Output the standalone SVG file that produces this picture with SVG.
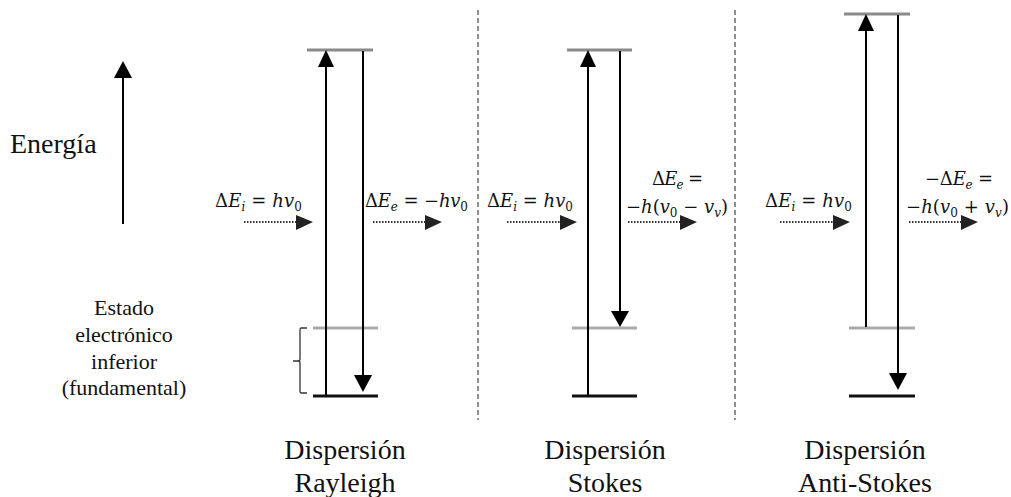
<svg xmlns="http://www.w3.org/2000/svg" width="1011" height="497" viewBox="0 0 1011 497">
<style>
.lbl{font-family:"Liberation Serif","Times New Roman",serif;fill:#111;}
.big{font-size:28px;}
.mid{font-size:22px;}
.math{font-family:"DejaVu Serif","Liberation Serif",serif;font-size:18px;fill:#111;}
.it{font-style:italic;}
.sub{font-size:12px;font-style:italic;}
.sub0{font-size:12px;}
.top{stroke:#8a8a8a;stroke-width:3;}
.midl{stroke:#aaaaaa;stroke-width:3;}
.bot{stroke:#111;stroke-width:3;}
.v{stroke:#000;stroke-width:2;fill:none;}
.dot{stroke:#333;stroke-width:2;stroke-dasharray:1.5 1.5;fill:none;}
.dash{stroke:#555;stroke-width:1.3;stroke-dasharray:5 3;fill:none;}
.head{fill:#000;}
.dhead{fill:#222;}
</style>

<g id="energy-axis">
<line class="v" x1="123" y1="224" x2="123" y2="76"/>
<polygon class="head" points="123,61 114,78 132,78"/>
<text class="lbl big" x="10" y="153">Energía</text>
</g>

<g id="ground-state-label">
<text class="lbl mid" text-anchor="middle" x="124" y="315">Estado</text>
<text class="lbl mid" text-anchor="middle" x="124" y="342">electrónico</text>
<text class="lbl mid" text-anchor="middle" x="124" y="369">inferior</text>
<text class="lbl mid" text-anchor="middle" x="124" y="395">(fundamental)</text>
<path d="M307,328 L301,328 Q300,328 300,330 L300,359 Q300,361 298,361 L293,361 M298,361 Q300,361 300,363 L300,391 Q300,393 301,393 L307,393" fill="none" stroke="#333" stroke-width="1.3"/>
</g>

<g id="separators">
<line class="dash" x1="478" y1="10" x2="478" y2="420"/>
<line class="dash" x1="735" y1="10" x2="735" y2="420"/>
</g>

<g id="rayleigh">
<line class="top" x1="307" y1="50" x2="373" y2="50"/>
<line class="midl" x1="313" y1="328" x2="378" y2="328"/>
<line class="bot" x1="313" y1="396" x2="378" y2="396"/>
<text class="lbl big" text-anchor="middle" x="345" y="459">Dispersión</text>
<text class="lbl big" text-anchor="middle" x="345" y="492">Rayleigh</text>
</g>

<g id="stokes">
<line class="top" x1="567" y1="50" x2="632" y2="50"/>
<line class="midl" x1="572" y1="328" x2="637" y2="328"/>
<line class="bot" x1="572" y1="396" x2="637" y2="396"/>
<text class="lbl big" text-anchor="middle" x="605" y="459">Dispersión</text>
<text class="lbl big" text-anchor="middle" x="605" y="492">Stokes</text>
</g>

<g id="anti-stokes">
<line class="top" x1="844" y1="14" x2="910" y2="14"/>
<line class="midl" x1="849" y1="328" x2="915" y2="328"/>
<line class="bot" x1="849" y1="396" x2="915" y2="396"/>
<text class="lbl big" text-anchor="middle" x="865" y="459">Dispersión</text>
<text class="lbl big" text-anchor="middle" x="865" y="492">Anti-Stokes</text>
</g>

<g id="connectors">
<!-- Rayleigh -->
<line class="v" x1="326" y1="395" x2="326" y2="64"/>
<polygon class="head" points="326,50 318,67 334,67"/>
<line class="v" x1="363" y1="51" x2="363" y2="378"/>
<polygon class="head" points="363,392 354,375 372,375"/>
<!-- Stokes -->
<line class="v" x1="588" y1="395" x2="588" y2="64"/>
<polygon class="head" points="588,50 580,67 596,67"/>
<line class="v" x1="620" y1="51" x2="620" y2="314"/>
<polygon class="head" points="620,327 611,311 629,311"/>
<!-- Anti-Stokes -->
<line class="v" x1="866" y1="327" x2="866" y2="28"/>
<polygon class="head" points="866,14 858,31 874,31"/>
<line class="v" x1="898" y1="15" x2="898" y2="377"/>
<polygon class="head" points="898,390 889,373 907,373"/>
<!-- dotted photon arrows -->
<line class="dot" x1="244" y1="222" x2="297" y2="222"/>
<polygon class="dhead" points="313,222 296,215 296,230"/>
<line class="dot" x1="373" y1="222" x2="426" y2="222"/>
<polygon class="dhead" points="442,222 425,215 425,230"/>
<line class="dot" x1="507" y1="222" x2="561" y2="222"/>
<polygon class="dhead" points="577,222 560,215 560,230"/>
<line class="dot" x1="628" y1="222" x2="681" y2="222"/>
<polygon class="dhead" points="697,222 680,215 680,230"/>
<line class="dot" x1="780" y1="222" x2="834" y2="222"/>
<polygon class="dhead" points="850,222 833,215 833,230"/>
<line class="dot" x1="909" y1="222" x2="962" y2="222"/>
<polygon class="dhead" points="978,222 961,215 961,230"/>
</g>

<g id="labels">
<text class="math" x="215" y="207" textLength="87" lengthAdjust="spacing">Δ<tspan class="it">E</tspan><tspan class="sub" dy="4">i</tspan><tspan dy="-4"> = </tspan><tspan class="it">hv</tspan><tspan class="sub0" dy="4">0</tspan></text>
<text class="math" x="365" y="207" textLength="103" lengthAdjust="spacing">Δ<tspan class="it">E</tspan><tspan class="sub" dy="4">e</tspan><tspan dy="-4"> = −</tspan><tspan class="it">hv</tspan><tspan class="sub0" dy="4">0</tspan></text>
<text class="math" x="487" y="207" textLength="86" lengthAdjust="spacing">Δ<tspan class="it">E</tspan><tspan class="sub" dy="4">i</tspan><tspan dy="-4"> = </tspan><tspan class="it">hv</tspan><tspan class="sub0" dy="4">0</tspan></text>
<text class="math" x="652" y="185" textLength="51" lengthAdjust="spacing">Δ<tspan class="it">E</tspan><tspan class="sub" dy="4">e</tspan><tspan dy="-4"> =</tspan></text>
<text class="math" x="626" y="213" textLength="102" lengthAdjust="spacing">−<tspan class="it">h</tspan>(<tspan class="it">v</tspan><tspan class="sub0" dy="4">0</tspan><tspan dy="-4"> − </tspan><tspan class="it">v</tspan><tspan class="sub" dy="4">v</tspan><tspan dy="-4">)</tspan></text>
<text class="math" x="765" y="207" textLength="87" lengthAdjust="spacing">Δ<tspan class="it">E</tspan><tspan class="sub" dy="4">i</tspan><tspan dy="-4"> = </tspan><tspan class="it">hv</tspan><tspan class="sub0" dy="4">0</tspan></text>
<text class="math" x="925" y="185" textLength="68" lengthAdjust="spacing">−Δ<tspan class="it">E</tspan><tspan class="sub" dy="4">e</tspan><tspan dy="-4"> =</tspan></text>
<text class="math" x="906" y="213" textLength="103" lengthAdjust="spacing">−<tspan class="it">h</tspan>(<tspan class="it">v</tspan><tspan class="sub0" dy="4">0</tspan><tspan dy="-4"> + </tspan><tspan class="it">v</tspan><tspan class="sub" dy="4">v</tspan><tspan dy="-4">)</tspan></text>
</g>
</svg>
